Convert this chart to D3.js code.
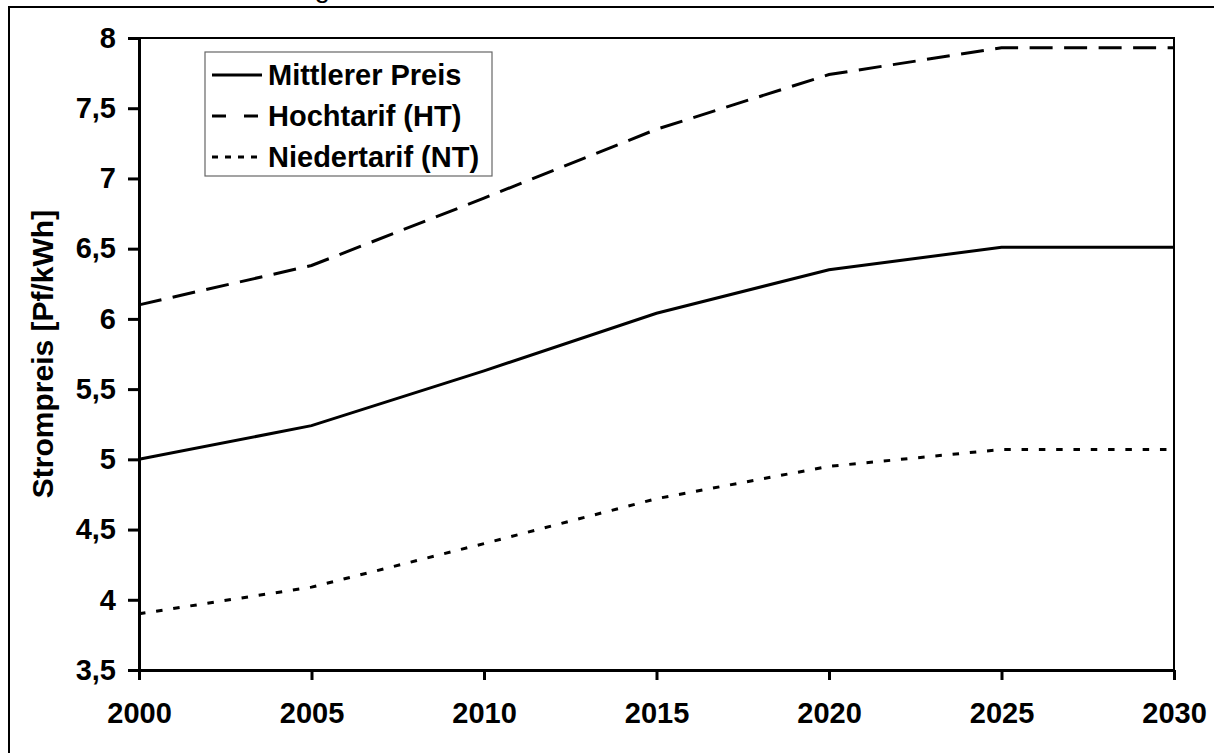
<!DOCTYPE html>
<meta charset="utf-8">
<style>
body { margin: 0; background: #fff; }
text { font-family: "Liberation Sans", Arial, sans-serif; font-weight: bold; fill: #000; }
.axis path, .axis line { stroke: #000; stroke-width: 3px; }
.line { fill: none; stroke: #000; stroke-width: 3px; }
</style>
<body>
<svg id="svg" width="1214" height="753"></svg>
<script src="https://cdnjs.cloudflare.com/ajax/libs/d3/7.8.5/d3.min.js"></script>
<script>

// data
var years = [2000, 2005, 2010, 2015, 2020, 2025, 2030];
var mittlerer = [5.0, 5.24, 5.63, 6.04, 6.35, 6.51, 6.51];
var hochtarif = [6.1, 6.38, 6.86, 7.35, 7.74, 7.93, 7.93];
var niedertarif = [3.9, 4.09, 4.40, 4.72, 4.95, 5.07, 5.07];

var seriesNames = ["Mittlerer Preis", "Hochtarif (HT)", "Niedertarif (NT)"];
var yTicks = [3.5, 4, 4.5, 5, 5.5, 6, 6.5, 7, 7.5, 8];
var yTickLabels = ["3,5", "4", "4,5", "5", "5,5", "6", "6,5", "7", "7,5", "8"];
var yTitle = "Strompreis [Pf/kWh]";

var dashes = ["none", "23,11.5", "6.5,10.8"];
var legendDashes = ["none", "14,18", "6,7"];

var svg = d3.select("svg"),
    margin = {top: 38, right: 40, bottom: 83, left: 139},
    width = 1174 - margin.left,
    height = 670 - margin.top;

// outer frame (cut off at right and bottom)
svg.append("rect")
    .attr("x", 9).attr("y", 7)
    .attr("width", 1300).attr("height", 900)
    .attr("fill", "none").attr("stroke", "#000").attr("stroke-width", 2);

// cut-off heading, only the descender shows
svg.append("text")
    .attr("x", 330).attr("y", -3)
    .attr("text-anchor", "end")
    .style("font-weight", "normal")
    .style("font-size", "28px")
    .text("Preisentwicklung");

var g = svg.append("g").attr("transform", "translate(" + margin.left + "," + margin.top + ")");

var x = d3.scaleLinear().domain([2000, 2030]).range([0, width]),
    y = d3.scaleLinear().domain([3.5, 8]).range([height, 0]);

// plot frame
g.append("rect")
    .attr("width", width).attr("height", height)
    .attr("fill", "none").attr("stroke", "#000").attr("stroke-width", 2);

var series = [mittlerer, hochtarif, niedertarif].map(function(vals, i) {
  return {
    name: seriesNames[i],
    values: years.map(function(yr, j) { return {year: yr, value: vals[j]}; })
  };
});

var line = d3.line()
    .x(function(d) { return x(d.year); })
    .y(function(d) { return y(d.value); });

g.selectAll(".line")
  .data(series)
  .enter().append("path")
    .attr("class", "line")
    .attr("d", function(d) { return line(d.values); })
    .attr("stroke-dasharray", function(d, i) { return dashes[i]; });

// axes
var xAxis = g.append("g")
    .attr("class", "axis")
    .attr("transform", "translate(0," + height + ")")
    .call(d3.axisBottom(x).tickValues(years).tickFormat(d3.format("d")).tickSize(10).tickSizeOuter(0).tickPadding(22));
xAxis.select(".domain").attr("stroke-width", 4);
xAxis.selectAll("text").style("font-size", "29px");

var yAxis = g.append("g")
    .attr("class", "axis")
    .call(d3.axisLeft(y).tickValues(yTicks)
      .tickFormat(function(d, i) { return yTickLabels[i]; })
      .tickSize(11).tickSizeOuter(0).tickPadding(12));
yAxis.selectAll("text").style("font-size", "29px");

g.append("text")
    .attr("transform", "rotate(-90)")
    .attr("x", -height / 2)
    .attr("y", 53 - margin.left)
    .attr("text-anchor", "middle")
    .style("font-size", "30px")
    .text(yTitle);

// legend
var legend = svg.append("g").attr("transform", "translate(205,52)");
legend.append("rect")
    .attr("width", 287).attr("height", 124)
    .attr("fill", "#fff").attr("stroke", "#666").attr("stroke-width", 1.2);

var item = legend.selectAll(".item")
  .data(series)
  .enter().append("g")
    .attr("class", "item")
    .attr("transform", function(d, i) { return "translate(0," + (23 + i * 41) + ")"; });

item.append("line")
    .attr("x1", 7).attr("x2", 57)
    .attr("stroke", "#000").attr("stroke-width", 3)
    .attr("stroke-dasharray", function(d, i) { return legendDashes[i]; });

item.append("text")
    .attr("x", 63).attr("y", 10)
    .style("font-size", "29px")
    .text(function(d) { return d.name; });

</script>
</body>
